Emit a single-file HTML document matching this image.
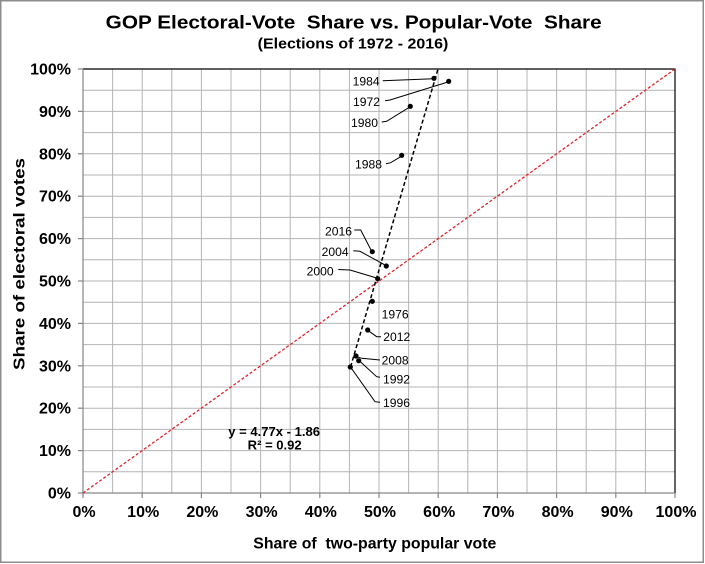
<!DOCTYPE html>
<html>
<head>
<meta charset="utf-8">
<style>
html,body{margin:0;padding:0;background:#fff;}
svg{display:block;}
text{font-family:"Liberation Sans",Arial,sans-serif;fill:#000;}
.b{font-weight:bold;}
</style>
</head>
<body>
<svg width="705" height="564" viewBox="0 0 705 564" xmlns="http://www.w3.org/2000/svg">
<rect x="0" y="0" width="705" height="564" fill="#fff"/>
<rect x="0.75" y="0.75" width="702.5" height="561.5" fill="none" stroke="#8c8c8c" stroke-width="1.5"/>

<!-- Titles -->
<text class="b" x="105.7" y="28.3" font-size="18.5" textLength="496" lengthAdjust="spacingAndGlyphs" style="white-space:pre">GOP Electoral-Vote  Share vs. Popular-Vote  Share</text>
<text class="b" x="257.7" y="48.6" font-size="15" textLength="190.6" lengthAdjust="spacingAndGlyphs">(Elections of 1972 - 2016)</text>

<!-- grid -->
<g stroke="#b4b4b4" stroke-width="1">
<line x1="112.6" y1="69" x2="112.6" y2="493"/>
<line x1="142.2" y1="69" x2="142.2" y2="493"/>
<line x1="171.8" y1="69" x2="171.8" y2="493"/>
<line x1="201.4" y1="69" x2="201.4" y2="493"/>
<line x1="231" y1="69" x2="231" y2="493"/>
<line x1="260.6" y1="69" x2="260.6" y2="493"/>
<line x1="290.2" y1="69" x2="290.2" y2="493"/>
<line x1="319.8" y1="69" x2="319.8" y2="493"/>
<line x1="349.4" y1="69" x2="349.4" y2="493"/>
<line x1="379" y1="69" x2="379" y2="493"/>
<line x1="408.6" y1="69" x2="408.6" y2="493"/>
<line x1="438.2" y1="69" x2="438.2" y2="493"/>
<line x1="467.8" y1="69" x2="467.8" y2="493"/>
<line x1="497.4" y1="69" x2="497.4" y2="493"/>
<line x1="527" y1="69" x2="527" y2="493"/>
<line x1="556.6" y1="69" x2="556.6" y2="493"/>
<line x1="586.2" y1="69" x2="586.2" y2="493"/>
<line x1="615.8" y1="69" x2="615.8" y2="493"/>
<line x1="645.4" y1="69" x2="645.4" y2="493"/>
<line x1="83" y1="471.8" x2="675" y2="471.8"/>
<line x1="83" y1="450.6" x2="675" y2="450.6"/>
<line x1="83" y1="429.4" x2="675" y2="429.4"/>
<line x1="83" y1="408.2" x2="675" y2="408.2"/>
<line x1="83" y1="387" x2="675" y2="387"/>
<line x1="83" y1="365.8" x2="675" y2="365.8"/>
<line x1="83" y1="344.6" x2="675" y2="344.6"/>
<line x1="83" y1="323.4" x2="675" y2="323.4"/>
<line x1="83" y1="302.2" x2="675" y2="302.2"/>
<line x1="83" y1="281" x2="675" y2="281"/>
<line x1="83" y1="259.8" x2="675" y2="259.8"/>
<line x1="83" y1="238.6" x2="675" y2="238.6"/>
<line x1="83" y1="217.4" x2="675" y2="217.4"/>
<line x1="83" y1="196.2" x2="675" y2="196.2"/>
<line x1="83" y1="175" x2="675" y2="175"/>
<line x1="83" y1="153.8" x2="675" y2="153.8"/>
<line x1="83" y1="132.6" x2="675" y2="132.6"/>
<line x1="83" y1="111.4" x2="675" y2="111.4"/>
<line x1="83" y1="90.2" x2="675" y2="90.2"/>
</g>

<!-- plot borders -->
<line x1="83" y1="69" x2="675.5" y2="69" stroke="#000" stroke-width="1.2"/>
<line x1="675" y1="69" x2="675" y2="493" stroke="#000" stroke-width="1.2"/>
<g stroke="#868686" stroke-width="1.2">
<line x1="83" y1="69" x2="83" y2="493"/>
<line x1="83" y1="493" x2="675" y2="493"/>
<!-- y ticks -->
<line x1="78" y1="69" x2="83" y2="69"/>
<line x1="78" y1="111.4" x2="83" y2="111.4"/>
<line x1="78" y1="153.8" x2="83" y2="153.8"/>
<line x1="78" y1="196.2" x2="83" y2="196.2"/>
<line x1="78" y1="238.6" x2="83" y2="238.6"/>
<line x1="78" y1="281" x2="83" y2="281"/>
<line x1="78" y1="323.4" x2="83" y2="323.4"/>
<line x1="78" y1="365.8" x2="83" y2="365.8"/>
<line x1="78" y1="408.2" x2="83" y2="408.2"/>
<line x1="78" y1="450.6" x2="83" y2="450.6"/>
<line x1="78" y1="493" x2="83" y2="493"/>
<!-- x ticks -->
<line x1="83" y1="493" x2="83" y2="498"/>
<line x1="142.2" y1="493" x2="142.2" y2="498"/>
<line x1="201.4" y1="493" x2="201.4" y2="498"/>
<line x1="260.6" y1="493" x2="260.6" y2="498"/>
<line x1="319.8" y1="493" x2="319.8" y2="498"/>
<line x1="379" y1="493" x2="379" y2="498"/>
<line x1="438.2" y1="493" x2="438.2" y2="498"/>
<line x1="497.4" y1="493" x2="497.4" y2="498"/>
<line x1="556.6" y1="493" x2="556.6" y2="498"/>
<line x1="615.8" y1="493" x2="615.8" y2="498"/>
<line x1="675" y1="493" x2="675" y2="498"/>
</g>

<!-- y tick labels -->
<g class="b" font-size="16" text-anchor="end">
<text x="71" y="74.5">100%</text>
<text x="71" y="116.9">90%</text>
<text x="71" y="159.3">80%</text>
<text x="71" y="201.7">70%</text>
<text x="71" y="244.1">60%</text>
<text x="71" y="286.5">50%</text>
<text x="71" y="328.9">40%</text>
<text x="71" y="371.3">30%</text>
<text x="71" y="413.7">20%</text>
<text x="71" y="456.1">10%</text>
<text x="71" y="498.5">0%</text>
</g>

<!-- x tick labels -->
<g class="b" font-size="16" text-anchor="middle">
<text x="84" y="517">0%</text>
<text x="143.2" y="517">10%</text>
<text x="202.4" y="517">20%</text>
<text x="261.6" y="517">30%</text>
<text x="320.8" y="517">40%</text>
<text x="380" y="517">50%</text>
<text x="439.2" y="517">60%</text>
<text x="498.4" y="517">70%</text>
<text x="557.6" y="517">80%</text>
<text x="616.8" y="517">90%</text>
<text x="676" y="517">100%</text>
</g>

<!-- axis titles -->
<text class="b" x="253.3" y="548.3" font-size="15.5" textLength="243" lengthAdjust="spacingAndGlyphs" style="white-space:pre">Share of  two-party popular vote</text>
<text class="b" font-size="15.5" text-anchor="middle" transform="translate(24.5,264) rotate(-90)" textLength="212" lengthAdjust="spacingAndGlyphs">Share of electoral votes</text>

<!-- red 45-degree line -->
<line x1="83" y1="493" x2="675" y2="69" stroke="#e3242b" stroke-width="1.3" stroke-dasharray="3,2"/>

<!-- trendline -->
<line x1="350.6" y1="366.8" x2="438.3" y2="68" stroke="#000" stroke-width="1.5" stroke-dasharray="4,2.5"/>

<!-- leader lines -->
<g fill="none" stroke="#000" stroke-width="1">
<polyline points="382.7,80.7 433.3,78.7"/>
<polyline points="385,100.7 390,100 448,82"/>
<polyline points="381.7,122 386.7,121.3 409.3,107.3"/>
<polyline points="386,163.7 390.7,162.7 400.7,156.7"/>
<polyline points="354.3,230 360.7,230 371,250"/>
<polyline points="353.3,250.7 360,251.3 385,265"/>
<polyline points="338.3,269.5 350,270 376.7,278"/>
<polyline points="368.3,330.7 376.7,336.7 381,336.7"/>
<polyline points="356.7,356.7 361.7,358.3 380,360"/>
<polyline points="359.3,360.7 376.7,376.7 380,377.3"/>
<polyline points="350.7,367.3 375,401.7 380,402.3"/>
</g>

<!-- data points -->
<g fill="#000">
<circle cx="434" cy="78.3" r="2.6"/>
<circle cx="448.7" cy="81.3" r="2.6"/>
<circle cx="410.3" cy="106.3" r="2.6"/>
<circle cx="401.7" cy="155.3" r="2.6"/>
<circle cx="372.3" cy="251.7" r="2.6"/>
<circle cx="386.3" cy="266" r="2.6"/>
<circle cx="377.7" cy="278.7" r="2.6"/>
<circle cx="372.3" cy="301.3" r="2.6"/>
<circle cx="367.7" cy="330" r="2.6"/>
<circle cx="356" cy="356" r="2.6"/>
<circle cx="358.7" cy="360.7" r="2.6"/>
<circle cx="350.3" cy="367" r="2.6"/>
</g>

<!-- year labels -->
<g font-size="12">
<text x="352.7" y="85.3" textLength="27" lengthAdjust="spacingAndGlyphs">1984</text>
<text x="353" y="106" textLength="27" lengthAdjust="spacingAndGlyphs">1972</text>
<text x="351" y="127" textLength="27" lengthAdjust="spacingAndGlyphs">1980</text>
<text x="355" y="168.7" textLength="27" lengthAdjust="spacingAndGlyphs">1988</text>
<text x="325" y="235.3" textLength="27" lengthAdjust="spacingAndGlyphs">2016</text>
<text x="321.7" y="256" textLength="27" lengthAdjust="spacingAndGlyphs">2004</text>
<text x="306.7" y="275.7" textLength="27" lengthAdjust="spacingAndGlyphs">2000</text>
<text x="381.7" y="318.7" textLength="27" lengthAdjust="spacingAndGlyphs">1976</text>
<text x="383.3" y="341" textLength="27" lengthAdjust="spacingAndGlyphs">2012</text>
<text x="381.7" y="364.3" textLength="27" lengthAdjust="spacingAndGlyphs">2008</text>
<text x="383" y="383.3" textLength="27" lengthAdjust="spacingAndGlyphs">1992</text>
<text x="383" y="407" textLength="27" lengthAdjust="spacingAndGlyphs">1996</text>
</g>

<!-- equation -->
<text class="b" x="228.3" y="436" font-size="12.5" textLength="91.7" lengthAdjust="spacingAndGlyphs">y = 4.77x - 1.86</text>
<text class="b" x="247.7" y="449.3" font-size="12.5" textLength="54" lengthAdjust="spacingAndGlyphs">R² = 0.92</text>
</svg>
</body>
</html>
